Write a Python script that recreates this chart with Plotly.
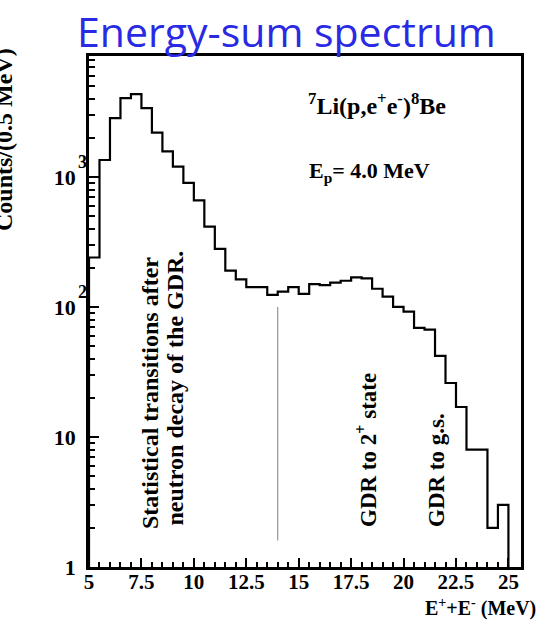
import plotly.graph_objects as go

# Energy-sum histogram, 0.5 MeV bins from 5 to 25 MeV
bin_start = 5.0
bin_width = 0.5
counts = [240, 1350, 2830, 4030, 4330, 3380, 2190, 1570, 1200, 900,
          660, 415, 280, 190, 163, 142, 142, 124, 131, 142,
          126, 150, 147, 154, 159, 169, 166, 138, 120, 100,
          92, 69, 67, 42, 26, 17, 8, 8, 2, 3]

x_tick_vals = [5, 7.5, 10, 12.5, 15, 17.5, 20, 22.5, 25]
x_tick_text = ["5", "7.5", "10", "12.5", "15", "17.5", "20", "22.5", "25"]
y_tick_vals = [1, 10, 100, 1000]
y_tick_text = ["1", "10", "10", "10"]
y_exponents = {100: "2", 1000: "3"}

divider_energy = 14.0
divider_span = [1.6, 100]

# step outline: rise from the floor at the first edge, fall back at the last edge
floor = 1
edges = [bin_start + i * bin_width for i in range(len(counts) + 1)]
step_x = [edges[0]] + edges
step_y = [floor] + counts + [floor]

serif = "Liberation Serif"
black = "#000000"

# plot-area geometry in pixels, used to place the free text
L, R, T, B = 89, 19, 56, 53
W, H = 540, 620
pw, ph = W - L - R, H - T - B


def px(x):
    return (x - L) / pw


def py(y):
    return (H - B - y) / ph


fig = go.Figure()
fig.add_trace(go.Scatter(
    x=step_x, y=step_y, mode="lines",
    line=dict(color=black, width=2.2, shape="hv"),
    showlegend=False, hoverinfo="skip",
))
fig.add_trace(go.Scatter(
    x=[divider_energy, divider_energy], y=divider_span, mode="lines",
    line=dict(color="#808080", width=1),
    showlegend=False, hoverinfo="skip",
))

minor_x = [bin_start + i * bin_width for i in range(41)]
minor_y = [m * 10 ** d for d in range(4) for m in range(2, 10)]

fig.update_xaxes(
    range=[5, 25.6], showgrid=False, zeroline=False,
    showline=True, linewidth=2.5, linecolor=black, mirror=True,
    tickmode="array", tickvals=x_tick_vals, ticktext=x_tick_text,
    ticks="inside", ticklen=9, tickwidth=2, tickcolor=black,
    ticklabelstandoff=-6,
    tickfont=dict(family=serif, size=21, color=black, weight="bold"),
    minor=dict(tickmode="array", tickvals=minor_x, ticks="inside",
               ticklen=5, tickwidth=2, tickcolor=black, showgrid=False),
)
fig.update_yaxes(
    type="log", range=[0, 3.93], showgrid=False, zeroline=False,
    showline=True, linewidth=2.5, linecolor=black, mirror=True,
    tickmode="array", tickvals=y_tick_vals, ticktext=y_tick_text,
    ticks="inside", ticklen=10, tickwidth=2, tickcolor=black,
    ticklabelstandoff=6,
    tickfont=dict(family=serif, size=22, color=black, weight="bold"),
    minor=dict(tickmode="array", tickvals=minor_y, ticks="inside",
               ticklen=6, tickwidth=2, tickcolor=black, showgrid=False),
)

ann = []
# decade exponents next to the y tick labels
for val, exp in y_exponents.items():
    ann.append(dict(text=exp, xref="paper", yref="y", x=px(82.5), y=len(str(val)) - 1,
                    xanchor="center", yanchor="middle", yshift=15, showarrow=False,
                    font=dict(family=serif, size=18, color=black, weight="bold")))

rot_font = dict(family=serif, size=24, color=black, weight="bold")
ann += [
    dict(text="Energy-sum spectrum", xref="paper", yref="paper", x=px(286), y=py(31),
         xanchor="center", yanchor="middle", showarrow=False,
         font=dict(family="Open Sans", size=41, color="#2A2AE4")),
    dict(text="Counts/(0.5 MeV)", xref="paper", yref="paper", x=px(4), y=py(140),
         xanchor="center", yanchor="middle", textangle=-90, showarrow=False,
         font=dict(family=serif, size=24, color=black, weight="bold")),
    dict(text="E<sup>+</sup>+E<sup>-</sup> (MeV)", xref="paper", yref="paper",
         x=px(538), y=py(607), xanchor="right", yanchor="middle", showarrow=False,
         font=dict(family=serif, size=20, color=black, weight="bold")),
    dict(text="<sup>7</sup>Li(p,e<sup>+</sup>e<sup>-</sup>)<sup>8</sup>Be",
         xref="paper", yref="paper", x=px(306), y=py(104),
         xanchor="left", yanchor="middle", showarrow=False,
         font=dict(family=serif, size=24, color=black, weight="bold")),
    dict(text="E<sub>p</sub>= 4.0 MeV", xref="paper", yref="paper", x=px(307), y=py(172),
         xanchor="left", yanchor="middle", showarrow=False,
         font=dict(family=serif, size=22, color=black, weight="bold")),
    dict(text="Statistical transitions after",
         xref="paper", yref="paper", x=px(150), y=py(531),
         xanchor="center", yanchor="bottom", textangle=-90, showarrow=False,
         font=rot_font),
    dict(text="neutron decay of the GDR.",
         xref="paper", yref="paper", x=px(174), y=py(528),
         xanchor="center", yanchor="bottom", textangle=-90, showarrow=False,
         font=rot_font),
    dict(text="GDR to 2<sup>+</sup> state", xref="paper", yref="paper", x=px(366), y=py(529),
         xanchor="center", yanchor="bottom", textangle=-90, showarrow=False,
         font=dict(family=serif, size=23, color=black, weight="bold")),
    dict(text="GDR to g.s.", xref="paper", yref="paper", x=px(436), y=py(529),
         xanchor="center", yanchor="bottom", textangle=-90, showarrow=False,
         font=dict(family=serif, size=23, color=black, weight="bold")),
]

fig.update_layout(
    width=W, height=H,
    margin=dict(l=L, r=R, t=T, b=B),
    paper_bgcolor="white", plot_bgcolor="white",
    annotations=ann, showlegend=False,
)

fig.write_html("out.html")
